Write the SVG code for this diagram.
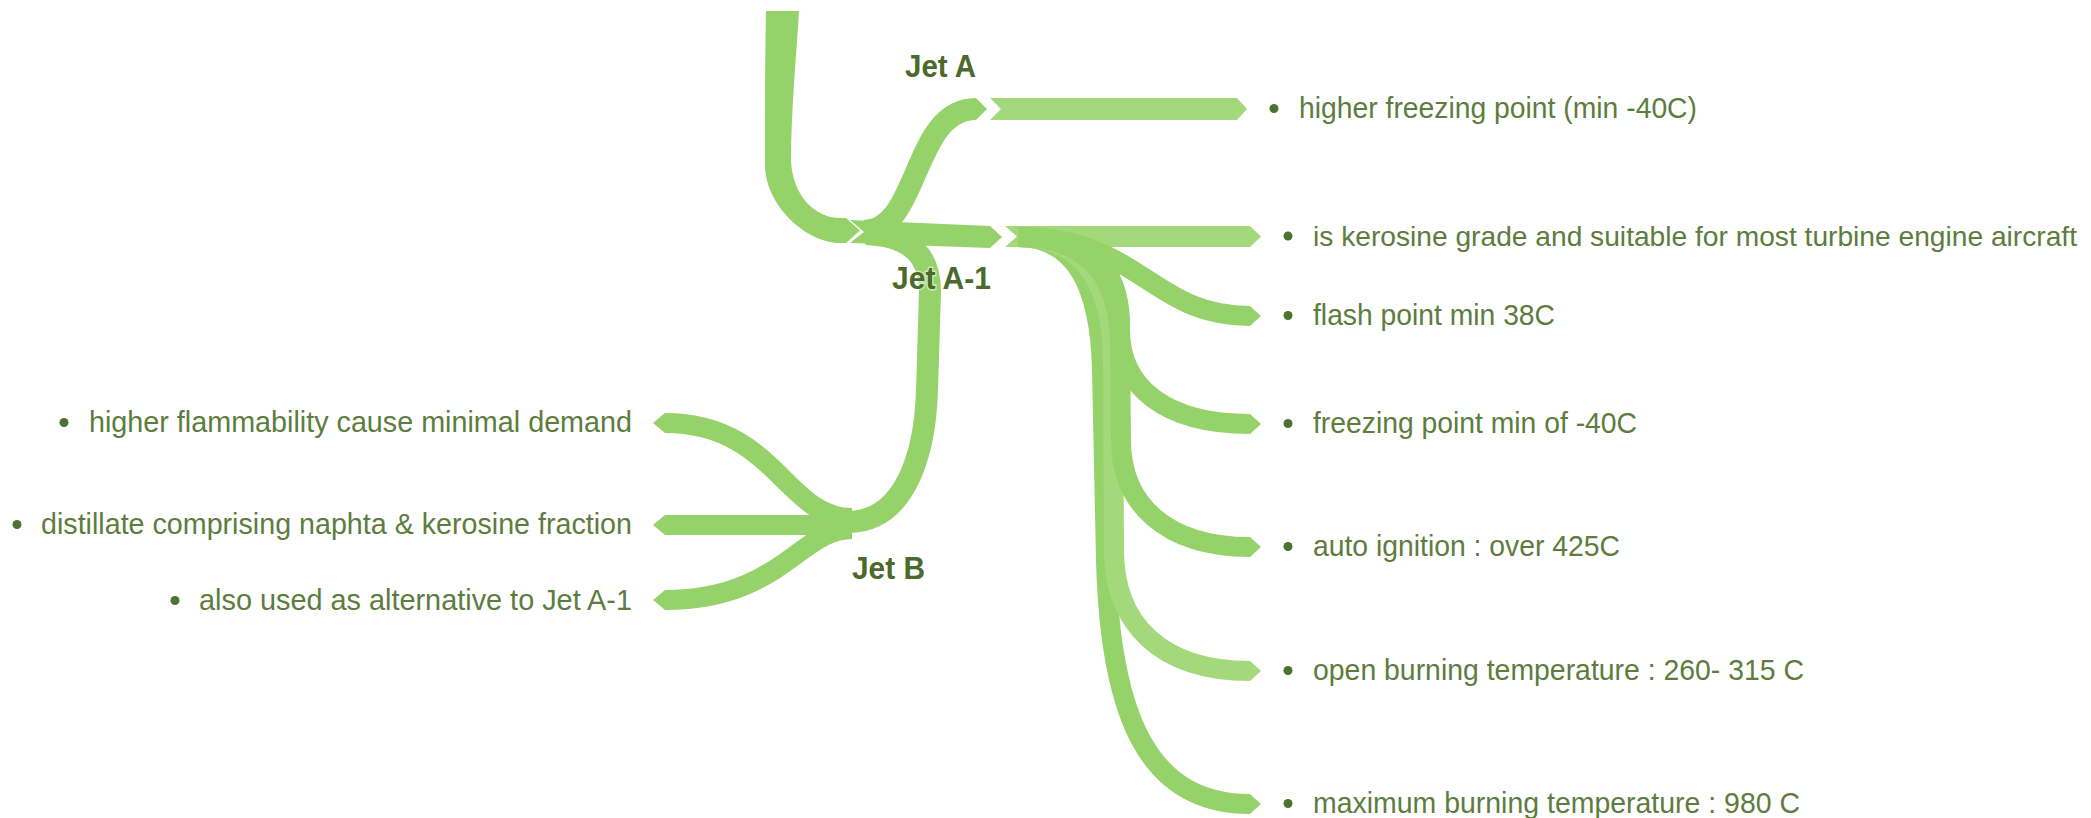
<svg xmlns="http://www.w3.org/2000/svg" width="2091" height="818" viewBox="0 0 2091 818">
  <style>
    .fill { fill: #96d26a; }
    .fill-lt { fill: #a4d97b; }
    .band { fill: none; stroke: #96d26a; stroke-width: 22; stroke-linecap: butt; }
    .band-lt { fill: none; stroke: #a4d97b; stroke-width: 20; stroke-linecap: butt; }
    .leafband { fill: none; stroke: #96d26a; stroke-width: 20; stroke-linecap: butt; }
    .label { font-family: "Liberation Sans", Arial, sans-serif; font-size: 32px; font-weight: bold; fill: #4b6a2b; stroke: #ffffff; stroke-width: 3; stroke-opacity: 0.5; paint-order: stroke; }
    .item { font-family: "Liberation Sans", Arial, sans-serif; font-size: 30px; fill: #5d7c3e; }
    .item-long { font-size: 27.5px; }
    .dot { fill: #4e7330; }
  </style>

  <!-- connectors: tapered green branches -->
  <g id="connectors">
    <!-- root stem coming down from above -->
    <path class="fill" d="M 766 11 L 799 11 C 796 60, 791 115, 791 160 C 792 195, 815 218, 840 218 L 846 218 L 860 230.5 L 846 243 L 840 243 C 806 243, 765 205, 765 165 C 765 110, 765 60, 766 11 Z"/>

    <!-- Jet A-1 stem -->
    <polygon class="fill" points="850,220 990,226 1002,237 990,248 850,243 864,232"/>

    <!-- Jet A stem -->
    <path class="band" d="M 864 231 C 920 231, 912 109, 976 109"/>
    <polygon class="fill" points="976,98 987,109 976,120"/>
    <!-- Jet A leaf -->
    <polygon class="fill-lt" points="990,98 1237,98 1247,109 1237,120 990,120 1001,109"/>

    <!-- Jet B stem -->
    <path class="band" d="M 866 234 C 910 236, 930 255, 930 292 L 927 390 C 925 455, 905 520, 850 522"/>

    <!-- Jet B leaves (pointing left) -->
    <path class="leafband" d="M 852 518 C 785 518, 775 423, 665 423"/>
    <polygon class="fill" points="665,413 653,423 665,433"/>
    <path class="leafband" d="M 852 525 L 665 525"/>
    <polygon class="fill" points="665,515 653,525 665,535"/>
    <path class="leafband" d="M 852 529 C 800 529, 780 600, 665 600"/>
    <polygon class="fill" points="665,590 653,600 665,610"/>

    <!-- Jet A-1 leaves -->
    <polygon class="fill-lt" points="1005,226 1250,226 1261,236.5 1250,247 1005,247 1017,236.5"/>

    <path class="leafband" d="M 1018 237 C 1075 237, 1100 285, 1102 370 L 1106 560 C 1110 720, 1150 804, 1250 804"/>
    <polygon class="fill" points="1250,794 1261,804 1250,814"/>

    <path class="band-lt" d="M 1018 237 C 1085 237, 1112 285, 1113 360 L 1114 550 C 1114 623, 1160 671, 1250 671"/>
    <polygon class="fill-lt" points="1250,661 1261,671 1250,681"/>

    <path class="leafband" d="M 1018 237 C 1092 237, 1119 280, 1120 345 L 1121 440 C 1121 504, 1166 547, 1250 547"/>
    <polygon class="fill" points="1250,537 1261,547 1250,557"/>

    <path class="leafband" d="M 1018 237 C 1093 237, 1118 270, 1120 320 L 1120 330 C 1120 386, 1164 424, 1250 424"/>
    <polygon class="fill" points="1250,414 1261,424 1250,434"/>

    <path class="leafband" d="M 1018 237 C 1140 237, 1150 316, 1250 316"/>
    <polygon class="fill" points="1250,306 1261,316 1250,326"/>
  </g>

  <!-- topic labels -->
  <g id="node-jet-a">
    <text class="label" x="905" y="77" textLength="71" lengthAdjust="spacingAndGlyphs">Jet A</text>
  </g>
  <g id="node-jet-a1">
    <text class="label" x="892" y="289" textLength="99" lengthAdjust="spacingAndGlyphs">Jet A-1</text>
  </g>
  <g id="node-jet-b">
    <text class="label" x="852" y="579" textLength="73" lengthAdjust="spacingAndGlyphs">Jet B</text>
  </g>

  <!-- Jet A notes -->
  <g id="note-a-freezing">
    <circle class="dot" cx="1274" cy="108.5" r="4.5"/>
    <text class="item" x="1299" y="118" textLength="398" lengthAdjust="spacingAndGlyphs">higher freezing point (min -40C)</text>
  </g>

  <!-- Jet A-1 notes -->
  <g id="note-a1-grade">
    <circle class="dot" cx="1288" cy="236" r="4.5"/>
    <text class="item item-long" x="1313" y="245.5" textLength="764" lengthAdjust="spacingAndGlyphs">is kerosine grade and suitable for most turbine engine aircraft</text>
  </g>
  <g id="note-a1-flash">
    <circle class="dot" cx="1288" cy="315.5" r="4.5"/>
    <text class="item" x="1313" y="325" textLength="242" lengthAdjust="spacingAndGlyphs">flash point min 38C</text>
  </g>
  <g id="note-a1-freezing">
    <circle class="dot" cx="1288" cy="423.5" r="4.5"/>
    <text class="item" x="1313" y="433" textLength="324" lengthAdjust="spacingAndGlyphs">freezing point min of -40C</text>
  </g>
  <g id="note-a1-ignition">
    <circle class="dot" cx="1288" cy="546.5" r="4.5"/>
    <text class="item" x="1313" y="556" textLength="307" lengthAdjust="spacingAndGlyphs">auto ignition : over 425C</text>
  </g>
  <g id="note-a1-open">
    <circle class="dot" cx="1288" cy="670.5" r="4.5"/>
    <text class="item" x="1313" y="680" textLength="491" lengthAdjust="spacingAndGlyphs">open burning temperature : 260- 315 C</text>
  </g>
  <g id="note-a1-max">
    <circle class="dot" cx="1288" cy="803.5" r="4.5"/>
    <text class="item" x="1313" y="813" textLength="487" lengthAdjust="spacingAndGlyphs">maximum burning temperature : 980 C</text>
  </g>

  <!-- Jet B notes -->
  <g id="note-b-flammability">
    <circle class="dot" cx="64" cy="422.5" r="4.5"/>
    <text class="item" x="89" y="432" textLength="543" lengthAdjust="spacingAndGlyphs">higher flammability cause minimal demand</text>
  </g>
  <g id="note-b-distillate">
    <circle class="dot" cx="17" cy="524.5" r="4.5"/>
    <text class="item" x="41" y="534" textLength="591" lengthAdjust="spacingAndGlyphs">distillate comprising naphta &amp; kerosine fraction</text>
  </g>
  <g id="note-b-alternative">
    <circle class="dot" cx="175" cy="600.5" r="4.5"/>
    <text class="item" x="199" y="610" textLength="433" lengthAdjust="spacingAndGlyphs">also used as alternative to Jet A-1</text>
  </g>
</svg>
